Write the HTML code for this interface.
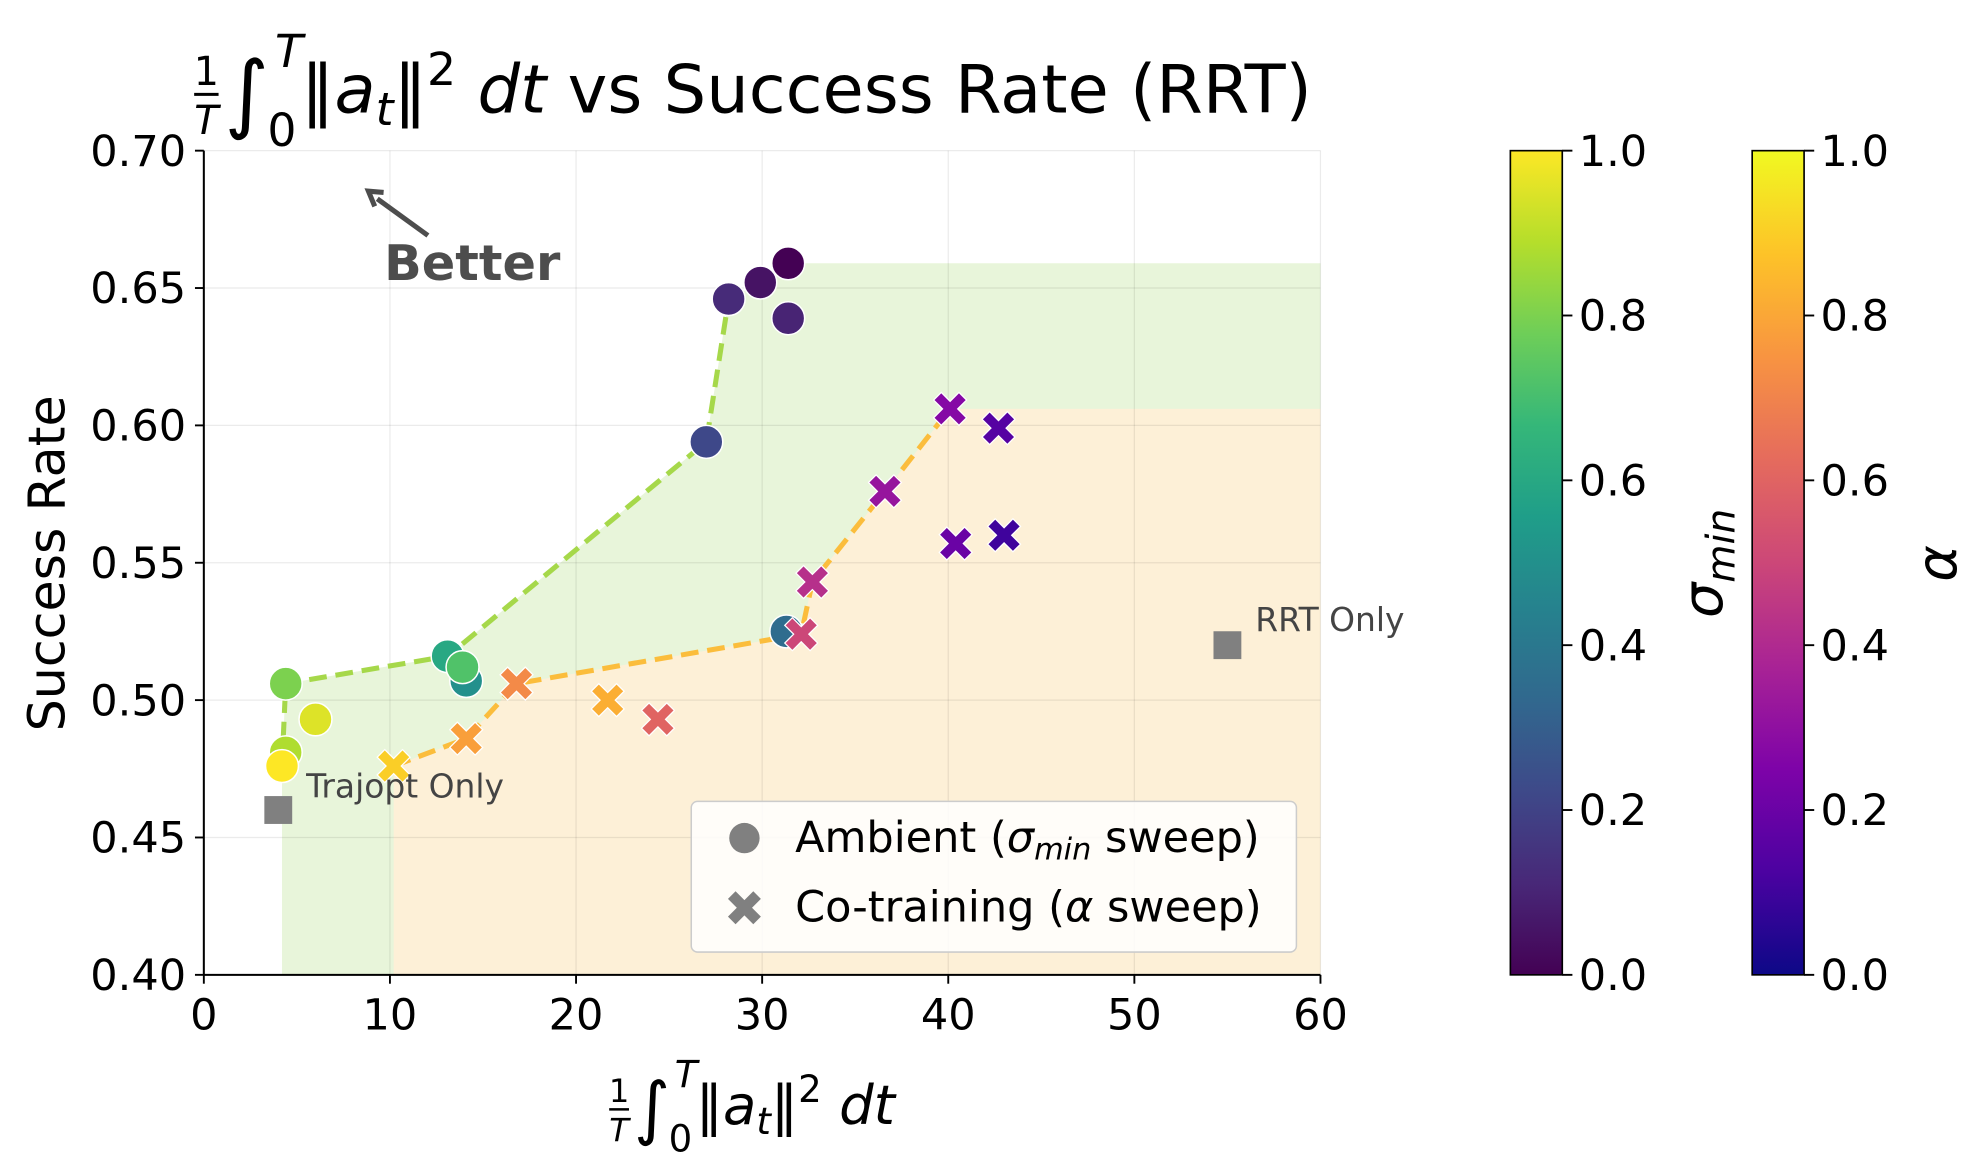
<!DOCTYPE html>
<html><head><meta charset="utf-8"><style>
html,body{margin:0;padding:0;background:#fff;}
svg{display:block;font-family:"DejaVu Sans","Liberation Sans",sans-serif;}
</style></head><body>
<svg id="chart" width="1975" height="1174" viewBox="0 0 1560 927.3" xmlns="http://www.w3.org/2000/svg">
<defs>
<linearGradient id="gv" x1="0" y1="1" x2="0" y2="0">
<stop offset="0" stop-color="#440154"/><stop offset="0.111" stop-color="#482878"/><stop offset="0.222" stop-color="#3e4989"/><stop offset="0.333" stop-color="#31688e"/><stop offset="0.444" stop-color="#26828e"/><stop offset="0.556" stop-color="#1f9e89"/><stop offset="0.667" stop-color="#35b779"/><stop offset="0.778" stop-color="#6ece58"/><stop offset="0.889" stop-color="#b5de2b"/><stop offset="1" stop-color="#fde725"/>
</linearGradient>
<linearGradient id="gp" x1="0" y1="1" x2="0" y2="0">
<stop offset="0" stop-color="#0d0887"/><stop offset="0.125" stop-color="#4c02a1"/><stop offset="0.25" stop-color="#7e03a8"/><stop offset="0.375" stop-color="#a92395"/><stop offset="0.5" stop-color="#cc4778"/><stop offset="0.625" stop-color="#e56b5d"/><stop offset="0.75" stop-color="#f89441"/><stop offset="0.875" stop-color="#fdc328"/><stop offset="1" stop-color="#f0f921"/>
</linearGradient>
</defs>
<g id="fills"></g>
<g id="grid"></g>
<g id="axes"></g>
<g id="lines"></g>
<g id="marks"></g>
<g id="annot"></g>
</svg>
<script>
// ---- data ----
const ambX = [4.4, 4.4, 4.2, 6.0, 13.1, 14.1, 13.9, 27.0, 28.2, 29.9, 31.4, 31.4, 31.3];
const ambY = [0.506, 0.481, 0.476, 0.493, 0.516, 0.507, 0.512, 0.594, 0.646, 0.652, 0.659, 0.639, 0.525];
const ambSigma = [0.8, 0.88, 1.0, 0.95, 0.6, 0.5, 0.72, 0.22, 0.12, 0.05, 0.0, 0.1, 0.35];
const ambFrontierX = [4.2, 4.4, 13.1, 27.0, 28.2];
const ambFrontierY = [0.476, 0.506, 0.516, 0.594, 0.646];
const coX = [10.2, 14.1, 16.8, 21.7, 24.4, 32.1, 32.7, 36.6, 40.1, 42.7, 40.4, 43.0];
const coY = [0.476, 0.486, 0.506, 0.500, 0.493, 0.524, 0.543, 0.576, 0.606, 0.599, 0.557, 0.560];
const coAlpha = [0.9, 0.78, 0.72, 0.82, 0.6, 0.5, 0.42, 0.32, 0.27, 0.15, 0.2, 0.1];
const coFrontierX = [10.2, 14.1, 16.8, 32.1, 32.7, 36.6, 40.1];
const coFrontierY = [0.476, 0.486, 0.506, 0.524, 0.543, 0.576, 0.606];
const baseNames = ["Trajopt Only", "RRT Only"];
const baseX = [4.0, 55.0];
const baseY = [0.460, 0.520];
const xTicks = [0, 10, 20, 30, 40, 50, 60];
const yTicks = [0.40, 0.45, 0.50, 0.55, 0.60, 0.65, 0.70];
const cbTicks = [0.0, 0.2, 0.4, 0.6, 0.8, 1.0];

// ---- scales ----
const X0 = 161, X1 = 1043, Y0 = 770, Y1 = 119;
const sx = v => X0 + (v - 0) / 60 * (X1 - X0);
const sy = v => Y0 - (v - 0.40) / 0.30 * (Y0 - Y1);
const NS = "http://www.w3.org/2000/svg";
const TF = 34;
function mk(tag, attrs, parent, txt) {
  const e = document.createElementNS(NS, tag);
  for (const k in attrs) e.setAttribute(k, attrs[k]);
  if (txt !== undefined) e.textContent = txt;
  parent.appendChild(e);
  return e;
}
function lerpMap(stops, t) {
  t = Math.max(0, Math.min(1, t));
  const n = stops.length - 1, i = Math.min(n - 1, Math.floor(t * n)), f = t * n - i;
  const a = stops[i], b = stops[i + 1];
  const h = s => [1, 3, 5].map(j => parseInt(s.substr(j, 2), 16));
  const A = h(a), B = h(b);
  return "rgb(" + A.map((c, k) => Math.round(c + (B[k] - c) * f)).join(",") + ")";
}
const viridis = ["#440154","#482878","#3e4989","#31688e","#26828e","#1f9e89","#35b779","#6ece58","#b5de2b","#fde725"];
const plasma = ["#0d0887","#4c02a1","#7e03a8","#a92395","#cc4778","#e56b5d","#f89441","#fdc328","#f0f921"];

const fills = document.getElementById('fills'), grid = document.getElementById('grid'),
  axes = document.getElementById('axes'), lines = document.getElementById('lines'),
  marks = document.getElementById('marks'), annot = document.getElementById('annot');

// fills
let gp = [[sx(ambFrontierX[0]), sy(0.40)]];
ambFrontierX.forEach((x, i) => gp.push([sx(x), sy(ambFrontierY[i])]));
gp.push([sx(29.9), sy(0.652)], [sx(31.4), sy(0.659)], [sx(60), sy(0.659)], [sx(60), sy(0.40)]);
let gEl = mk('polygon', {points: gp.map(p => p.join(',')).join(' '), fill: '#e8f5da'}, fills);


let op = [[sx(coFrontierX[0]), sy(0.40)]];
coFrontierX.forEach((x, i) => op.push([sx(x), sy(coFrontierY[i])]));
op.push([sx(60), sy(coFrontierY[coFrontierY.length - 1])], [sx(60), sy(0.40)]);
let oEl = mk('polygon', {points: op.map(p => p.join(',')).join(' '), fill: '#fdf0d7'}, fills);



// grid + ticks
xTicks.forEach(t => {
  mk('line', {x1: sx(t), x2: sx(t), y1: Y1, y2: Y0, stroke: '#000', 'stroke-opacity': 0.08, 'stroke-width': 1}, grid);
  mk('line', {x1: sx(t), x2: sx(t), y1: Y0, y2: Y0 + 7, stroke: '#000', 'stroke-width': 1.5}, axes);
  const l = mk('text', {x: sx(t), y: Y0 + 43, 'font-size': TF, 'text-anchor': 'middle'}, axes, String(t));
  
  
});
yTicks.forEach(t => {
  mk('line', {x1: X0, x2: X1, y1: sy(t), y2: sy(t), stroke: '#000', 'stroke-opacity': 0.08, 'stroke-width': 1}, grid);
  mk('line', {x1: X0 - 7, x2: X0, y1: sy(t), y2: sy(t), stroke: '#000', 'stroke-width': 1.5}, axes);
  const l = mk('text', {x: X0 - 14, y: sy(t) + 12, 'font-size': TF, 'text-anchor': 'end'}, axes, t.toFixed(2));
  
  
});
mk('line', {x1: X0, x2: X0, y1: Y1, y2: Y0, stroke: '#000', 'stroke-width': 1.6}, axes);
mk('line', {x1: X0, x2: X1, y1: Y0, y2: Y0, stroke: '#000', 'stroke-width': 1.6}, axes);

// frontier lines
let l1 = mk('polyline', {points: ambFrontierX.map((x, i) => sx(x) + ',' + sy(ambFrontierY[i])).join(' '), fill: 'none', stroke: '#a6d84a', 'stroke-width': 4, 'stroke-dasharray': '14,7'}, lines);


let l2 = mk('polyline', {points: coFrontierX.map((x, i) => sx(x) + ',' + sy(coFrontierY[i])).join(' '), fill: 'none', stroke: '#fbbd3c', 'stroke-width': 4, 'stroke-dasharray': '14,7'}, lines);



// markers
ambX.forEach((x, i) => {
  const c = mk('circle', {cx: sx(x), cy: sy(ambY[i]), r: 13, fill: lerpMap(viridis, ambSigma[i]), stroke: '#fff', 'stroke-width': 1.2}, marks);
  
  
});
const xPath = "M-13,-7 L-7,-13 L0,-6 L7,-13 L13,-7 L6,0 L13,7 L7,13 L0,6 L-7,13 L-13,7 L-6,0 Z";
coX.forEach((x, i) => {
  const p = mk('path', {d: xPath, transform: 'translate(' + sx(x) + ',' + sy(coY[i]) + ')', fill: lerpMap(plasma, coAlpha[i]), stroke: '#fff', 'stroke-width': 1}, marks);
  
  
});
baseX.forEach((x, i) => {
  const r = mk('rect', {x: sx(x) - 11, y: sy(baseY[i]) - 11, width: 22, height: 22, fill: '#808080'}, marks);
  
  
  const t = mk('text', {x: sx(x) + 22, y: sy(baseY[i]) + (i === 0 ? -10 : -11), 'font-size': 26, fill: '#444'}, marks, baseNames[i]);
  
  
});

// colorbars
function colorbar(x, grad, name, labelFn) {
  const g = mk('g', {}, annot);
  
  
  mk('rect', {x: x, y: Y1, width: 41, height: Y0 - Y1, fill: 'url(#' + grad + ')', stroke: '#000', 'stroke-width': 1.3}, g);
  cbTicks.forEach(t => {
    const y = Y0 - t * (Y0 - Y1);
    mk('line', {x1: x + 41, x2: x + 49, y1: y, y2: y, stroke: '#000', 'stroke-width': 1.5}, g);
    mk('text', {x: x + 54, y: y + 12, 'font-size': TF}, g, t.toFixed(1));
  });
  labelFn(g);
}
colorbar(1193, 'gv', 'sigma-colorbar', g => {
  const t = mk('text', {transform: 'translate(1360,445) rotate(-90)', 'font-size': 44, 'text-anchor': 'middle', 'font-style': 'italic'}, g);
  mk('tspan', {}, t, 'σ');
  mk('tspan', {'font-size': 31, dy: 10}, t, 'min');
});
colorbar(1384, 'gp', 'alpha-colorbar', g => {
  mk('text', {transform: 'translate(1545,445) rotate(-90)', 'font-size': 44, 'text-anchor': 'middle', 'font-style': 'italic'}, g, 'α');
});

// Better arrow
mk('line', {x1: 338, y1: 186, x2: 298, y2: 157, stroke: '#4d4d4d', 'stroke-width': 4}, annot);
mk('polyline', {points: '303,152 291,151 296,163', fill: 'none', stroke: '#4d4d4d', 'stroke-width': 4}, annot);
let bt = mk('text', {x: 373, y: 221, 'font-size': 39, 'font-weight': 'bold', fill: '#4d4d4d', 'text-anchor': 'middle'}, annot, 'Better');



// legend
const lg = mk('g', {}, annot);


mk('rect', {x: 546, y: 633, width: 478, height: 119, rx: 5, fill: '#fff', 'fill-opacity': 0.85, stroke: '#ccc', 'stroke-width': 1.2}, lg);
mk('circle', {cx: 588, cy: 662, r: 12, fill: '#808080'}, lg);
mk('path', {d: xPath, transform: 'translate(588,717)', fill: '#808080'}, lg);
const t1 = mk('text', {x: 628, y: 673, 'font-size': 34}, lg);


mk('tspan', {}, t1, 'Ambient (');
mk('tspan', {'font-style': 'italic'}, t1, 'σ');
mk('tspan', {'font-style': 'italic', 'font-size': 24, dy: 6}, t1, 'min');
mk('tspan', {dy: -6}, t1, ' sweep)');
const t2 = mk('text', {x: 628, y: 728, 'font-size': 34}, lg);


mk('tspan', {}, t2, 'Co-training (');
mk('tspan', {'font-style': 'italic'}, t2, 'α');
mk('tspan', {}, t2, ' sweep)');

// title & axis labels
function mathExpr(x, y, fs, name, suffix) {
  const g = mk('g', {}, annot);
  
  
  const s = fs / 44;
  mk('text', {x: x, y: y - 18 * s, 'font-size': 26 * s, 'text-anchor': 'middle'}, g, '1');
  mk('line', {x1: x - 8 * s, x2: x + 8 * s, y1: y - 12 * s, y2: y - 12 * s, stroke: '#000', 'stroke-width': 2 * s}, g);
  mk('text', {x: x, y: y + 14 * s, 'font-size': 26 * s, 'text-anchor': 'middle', 'font-style': 'italic'}, g, 'T');
  mk('text', {x: x + 12 * s, y: y + 6 * s, 'font-size': 56 * s}, g, '∫');
  mk('text', {x: x + 45 * s, y: y - 30 * s, 'font-size': 30 * s, 'font-style': 'italic'}, g, 'T');
  mk('text', {x: x + 40 * s, y: y + 22 * s, 'font-size': 30 * s}, g, '0');
  const t = mk('text', {x: x + 62 * s, y: y, 'font-size': fs}, g);
  mk('tspan', {}, t, '‖');
  mk('tspan', {'font-style': 'italic'}, t, 'a');
  mk('tspan', {'font-style': 'italic', 'font-size': 30 * s, dy: 8 * s}, t, 't');
  mk('tspan', {dy: -8 * s}, t, '‖');
  mk('tspan', {'font-size': 30 * s, dy: -18 * s}, t, '2');
  mk('tspan', {dy: 18 * s, 'font-style': 'italic'}, t, ' dt');
  if (suffix) mk('tspan', {}, t, suffix);
}
mathExpr(163, 89, 53, 'chart-title', ' vs Success Rate (RRT)');
mathExpr(489, 888, 43, 'x-axis-title', '');
const yl = mk('text', {transform: 'translate(51,445) rotate(-90)', 'font-size': 40, 'text-anchor': 'middle'}, annot, 'Success Rate');


</script>
</body></html>
